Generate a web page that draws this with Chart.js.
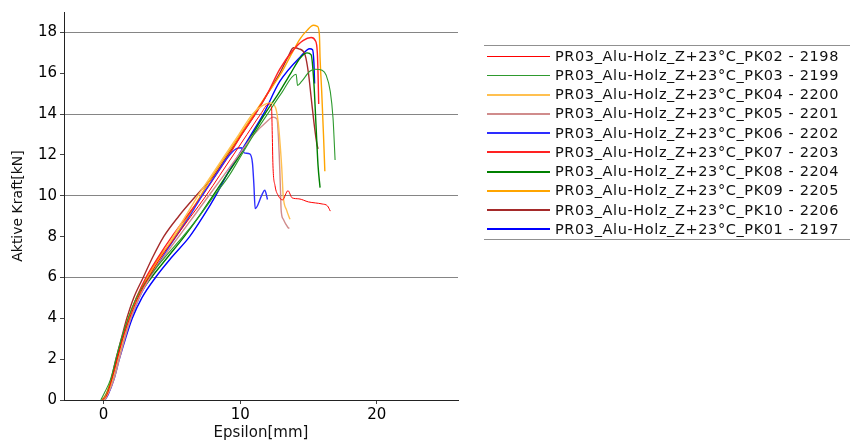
<!DOCTYPE html>
<html><head><meta charset="utf-8">
<script src="https://cdn.jsdelivr.net/npm/chart.js@4.4.1/dist/chart.umd.min.js"></script>
<style>
html,body{margin:0;padding:0;background:#fff;}
#wrap{position:relative;width:852px;height:443px;overflow:hidden;}
#c{position:absolute;left:0;top:0;}
#legend{position:absolute;left:484px;top:45px;width:366px;border-top:1px solid #909090;border-bottom:1px solid #909090;padding-top:0.5px;font-family:'DejaVu Sans';font-size:14.5px;letter-spacing:0.6px;color:#111;}
.row{height:19.26px;position:relative;}
.row .ln{position:absolute;left:3px;width:63px;}
.row .tx{position:absolute;left:71px;top:0;line-height:19.26px;white-space:nowrap;}
</style>
</head><body>
<div id="wrap"><canvas id="c" width="852" height="443"></canvas><div id="legend"></div></div>
<script>
const seriesNames = [
 'PR03_Alu-Holz_Z+23°C_PK02 - 2198','PR03_Alu-Holz_Z+23°C_PK03 - 2199','PR03_Alu-Holz_Z+23°C_PK04 - 2200',
 'PR03_Alu-Holz_Z+23°C_PK05 - 2201','PR03_Alu-Holz_Z+23°C_PK06 - 2202','PR03_Alu-Holz_Z+23°C_PK07 - 2203',
 'PR03_Alu-Holz_Z+23°C_PK08 - 2204','PR03_Alu-Holz_Z+23°C_PK09 - 2205','PR03_Alu-Holz_Z+23°C_PK10 - 2206',
 'PR03_Alu-Holz_Z+23°C_PK01 - 2197'];

const eps_PK02 = [-0.1,0.2,0.6,1.0,1.4,1.9,2.5,3.3,4.2,5.3,6.4,7.5,8.5,9.5,10.5,11.5,12.1,12.3,12.35,12.4,12.55,12.8,13.1,13.5,13.8,14.3,15.0,15.5,16.0,16.4,16.6];
const kn_PK02  = [0,0.2,1,2,3,4,5,6,7,8,9,10,11,12,13,14,14.5,14.3,13.0,11.5,10.5,10.0,9.8,10.25,9.9,9.85,9.7,9.65,9.6,9.5,9.25];

const eps_PK03 = [-0.2,0.1,0.5,0.9,1.3,1.8,2.4,3.3,4.5,5.8,7.0,8.1,9.2,10.1,11.0,12.0,13.0,14.1,14.2,14.5,15.1,15.5,16.0,16.3,16.6,16.8,16.95];
const kn_PK03  = [0,0.4,1,2,3,4,5,6,7,8,9,10,11,12,13,14,15,15.95,15.4,15.6,16.1,16.2,16.15,15.9,15.1,13.8,11.75];

const eps_PK04 = [0,0.3,0.65,1.05,1.45,1.9,2.5,3.3,4.2,5.1,6.0,6.9,7.9,8.9,9.9,10.9,11.6,12.2,12.6,12.8,12.95,13.05,13.15,13.4,13.65];
const kn_PK04  = [0,0.35,1,2,3,4,5,6,7,8,9,10,11,12,13,14,14.4,14.55,14.3,13.5,12.3,11.3,10.0,9.3,8.85];

const eps_PK05 = [0.1,0.4,0.75,1.15,1.55,2.0,2.6,3.4,4.4,5.5,6.6,7.7,8.8,9.9,11.0,11.9,12.4,12.7,12.8,12.9,12.95,13.0,13.15,13.5,13.6];
const kn_PK05  = [0,0.4,1,2,3,4,5,6,7,8,9,10,11,12,13,13.6,13.85,13.75,12.9,11.3,10.3,9.3,8.86,8.45,8.4];

const eps_PK06 = [0,0.3,0.7,1.1,1.5,2.0,2.6,3.4,4.3,5.3,6.3,7.2,8.2,9.1,9.7,10.1,10.3,10.7,10.9,11.0,11.1,11.6,11.8,12.0];
const kn_PK06  = [0,0.3,1,2,3,4,5,6,7,8,9,10,11,11.9,12.3,12.35,12.1,12.05,11.6,10.6,9.37,10.06,10.27,9.82];

const eps_PK07 = [0,0.3,0.65,1.0,1.4,1.85,2.4,3.1,4.0,5.0,6.1,7.2,8.2,9.2,10.1,11.1,12.0,12.9,13.9,14.6,15.2,15.5,15.65,15.7,15.75];
const kn_PK07  = [0,0.3,1,2,3,4,5,6,7,8,9,10,11,12,13,14,15,16.2,17.15,17.6,17.75,17.6,17.0,16.0,14.5];

const eps_PK08 = [0,0.3,0.6,0.95,1.35,1.85,2.5,3.5,4.7,5.9,7.0,8.0,9.0,10.0,10.9,11.8,12.8,13.7,14.4,14.9,15.2,15.4,15.55,15.7,15.85];
const kn_PK08  = [0,0.4,1,2,3,4,5,6,7,8,9,10,11,12,13,14,15,16,16.75,17.0,16.9,15.5,13.5,11.5,10.4];

const eps_PK09 = [-0.1,0.2,0.55,0.95,1.35,1.8,2.4,3.2,4.1,5.2,6.2,7.1,8.0,9.0,10.0,11.0,12.0,13.0,13.8,14.4,14.9,15.36,15.65,15.8,15.85,15.97,16.1,16.2];
const kn_PK09  = [0,0.3,1,2,3,4,5,6,7,8,9,10,11,12,13,14,15,16,17,17.7,18.1,18.35,18.3,17.9,16.75,15.1,13.0,11.2];

const eps_PK10 = [-0.1,0.2,0.55,0.9,1.3,1.7,2.2,2.9,3.6,4.4,5.5,6.9,8.1,9.1,10.1,11.1,12.0,12.9,13.5,13.9,14.3,14.75,15.0,15.2,15.4,15.6,15.7];
const kn_PK10  = [0,0.3,1,2,3,4,5,6,7,8,9,10.1,11,12,13,14,15,16,16.8,17.25,17.2,16.9,16.0,14.8,13.6,12.6,12.3];

const eps_PK01 = [0.1,0.35,0.75,1.15,1.6,2.1,2.8,3.8,5.0,6.3,7.3,8.2,9.0,9.9,10.8,11.7,12.9,14.4,15.1,15.3,15.4,15.45];
const kn_PK01  = [0,0.3,1,2,3,4,5,6,7,8,9,10,11,12,13,14,15.6,16.8,17.2,17.15,16.5,15.5];

const xTickValues = [0,10,20];
const yTickValues = [0,2,4,6,8,10,12,14,16,18];
const yGridValues = [6,10,14,18];

const seriesEps = [eps_PK02,eps_PK03,eps_PK04,eps_PK05,eps_PK06,eps_PK07,eps_PK08,eps_PK09,eps_PK10,eps_PK01];
const seriesKn  = [kn_PK02,kn_PK03,kn_PK04,kn_PK05,kn_PK06,kn_PK07,kn_PK08,kn_PK09,kn_PK10,kn_PK01];

const seriesColors = ['#ff0000','#2e9a2e','#ffc050','#d08c8c','#2d2dff','#ff2222','#008000','#ffa500','#a52a2a','#0000ff'];
const seriesWidths = [1,1.1,1.4,1.4,1.4,1.4,1.4,1.4,1.4,1.4];
const legendWidths = [1,1.2,2,2,2,2,2,2,2,2];

const datasets = seriesNames.map((n,i)=>({
  label:n,
  data: seriesEps[i].map((e,j)=>({x:e,y:seriesKn[i][j]})),
  borderColor:seriesColors[i], backgroundColor:seriesColors[i],
  borderWidth:seriesWidths[i], showLine:true, pointRadius:0,
  cubicInterpolationMode:'monotone', fill:false
}));

const FONT = 'DejaVu Sans';
Chart.defaults.font.family = FONT;
Chart.defaults.color = '#000';

new Chart(document.getElementById('c'), {
  type:'scatter',
  data:{datasets},
  options:{
    responsive:false, animation:false, devicePixelRatio:1,
    layout:{padding:{left:0,right:394,top:7,bottom:0}},
    plugins:{legend:{display:false}, tooltip:{enabled:false}},
    scales:{
      x:{type:'linear', min:-2.9, max:25.95,
        afterFit(s){s.height=43;},
        afterBuildTicks(s){s.ticks = xTickValues.map(v=>({value:v}));},
        ticks:{font:{size:15}, color:'#000', padding:2, maxRotation:0},
        grid:{drawOnChartArea:false, tickLength:4, tickColor:'#444'},
        border:{color:'#222', width:1},
        title:{display:true, text:'Epsilon[mm]', font:{size:15}, color:'#111', padding:{top:0,bottom:1}}
      },
      y:{type:'linear', min:0, max:19,
        afterFit(s){s.width=64;},
        afterBuildTicks(s){s.ticks = yTickValues.map(v=>({value:v}));},
        ticks:{font:{size:15}, color:'#000', padding:3},
        grid:{color:(c)=> (c.tick && yGridValues.includes(c.tick.value)) ? '#858585' : 'rgba(0,0,0,0)', tickLength:4, tickColor:'#444'},
        border:{color:'#222', width:1},
        title:{display:true, text:'Aktive Kraft[kN]', font:{size:14}, color:'#111', padding:{top:10,bottom:0}}
      }
    }
  }
});

const lg = document.getElementById('legend');
seriesNames.forEach((n,i)=>{
  const r = document.createElement('div'); r.className='row';
  const l = document.createElement('div'); l.className='ln';
  l.style.height = legendWidths[i]+'px';
  l.style.top = (9.63 - legendWidths[i]/2)+'px';
  l.style.background = seriesColors[i];
  const t = document.createElement('div'); t.className='tx'; t.textContent = n;
  r.appendChild(l); r.appendChild(t); lg.appendChild(r);
});
</script>
</body></html>
